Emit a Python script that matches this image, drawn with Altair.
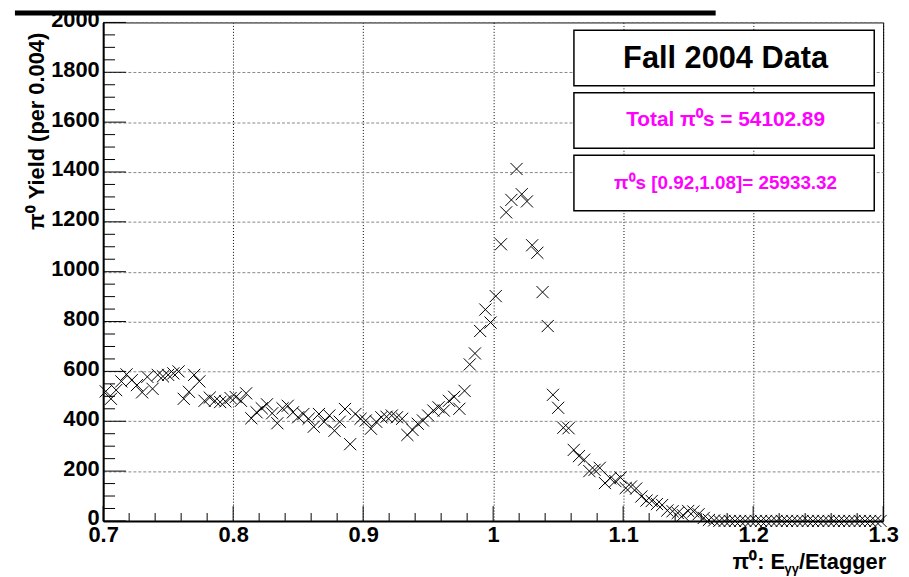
import altair as alt
import pandas as pd

FONT = "Liberation Sans"

# ---- data ----
bin_width = 0.004
x_start = 0.7
yields = [
    520, 490, 525, 560, 588, 565, 545, 516, 578, 530,
    586, 580, 586, 592, 600, 490, 518, 586, 560, 482,
    495, 482, 477, 480, 493, 497, 482, 512, 412, 436,
    452, 468, 432, 392, 452, 462, 436, 416, 429, 410,
    378, 429, 398, 423, 362, 398, 449, 308, 429, 410,
    403, 370, 398, 416, 418, 423, 416, 410, 345, 365,
    390, 403, 423, 443, 456, 443, 482, 498, 450, 522,
    628, 672, 762, 848, 796, 902, 1110, 1238, 1288, 1412,
    1311, 1282, 1106, 1076, 918, 782, 506, 454, 374, 372,
    285, 260, 246, 200, 205, 213, 152, 171, 160, 174,
    132, 138, 130, 98, 82, 80, 68, 64, 42, 39,
    32, 23, 40, 38, 27, 12, 4, 2, 0, 0,
    0, 0, 0, 0, 0, 0, 0, 0, 0, 0,
    0, 0, 0, 0, 0, 0, 0, 0, 0, 0,
    0, 0, 0, 0, 0, 0, 0, 0, 0, 0,
]
x_centers = [round(x_start + bin_width * (i + 0.5), 4) for i in range(len(yields))]

x_major = [0.7, 0.8, 0.9, 1.0, 1.1, 1.2, 1.3]
x_minor = [round(0.7 + 0.02 * k, 2) for k in range(31) if k % 5]
y_major = list(range(0, 2001, 200))
y_minor = [v for v in range(0, 2001, 50) if v % 200]

y_title = "π⁰ Yield (per 0.004)"
x_title_main = "π⁰: E"
x_title_sub = "γγ"
x_title_end = "/Etagger"
box_texts = ["Fall 2004 Data", "Total π⁰s = 54102.89", "π⁰s [0.92,1.08]= 25933.32"]

# ---- geometry ----
W, H = 787, 503
xscale = alt.Scale(domain=[0.7, 1.3], zero=False, nice=False)
yscale = alt.Scale(domain=[0, 2000], zero=False, nice=False)

df = pd.DataFrame({"x": x_centers, "y": yields})
dummy = pd.DataFrame({"a": [0]})

cross = "M-1,-1L1,1M-1,1L1,-1"

x_axis = alt.Axis(
    values=x_major, format="~g", grid=True, gridDash=[1, 2], gridColor="black",
    gridOpacity=1, ticks=False, tickSize=0, domain=True, domainColor="black",
    domainWidth=2, labelFlush=False, labelPadding=4, labelFont=FONT,
    labelFontWeight="bold", labelFontSize=22, labelColor="black", title=None)
y_axis = alt.Axis(
    values=y_major, format="d", grid=True, gridDash=[3, 2], gridColor="#888888",
    gridOpacity=1, ticks=False, tickSize=0, domain=True, domainColor="black",
    domainWidth=2, labelPadding=4, labelOffset=-3, labelFont=FONT,
    labelFontWeight="bold", labelFontSize=22, labelColor="black",
    title=y_title, titleFont=FONT,
    titleFontWeight="bold", titleFontSize=22, titleColor="black",
    titleX=-67, titleY=10, titleAlign="right", titleAngle=270,
    titleBaseline="middle")

points = alt.Chart(df).mark_point(
    shape=cross, size=150, filled=False, strokeWidth=1, color="black", opacity=1
).encode(
    x=alt.X("x:Q", scale=xscale, axis=x_axis),
    y=alt.Y("y:Q", scale=yscale, axis=y_axis),
)

xt_major = alt.Chart(pd.DataFrame({"x": x_major})).mark_rule(color="black", strokeWidth=1).encode(
    x=alt.X("x:Q", scale=xscale, axis=x_axis), y=alt.value(H), y2=alt.value(H - 15))
xt_minor = alt.Chart(pd.DataFrame({"x": x_minor})).mark_rule(color="black", strokeWidth=1).encode(
    x=alt.X("x:Q", scale=xscale, axis=x_axis), y=alt.value(H), y2=alt.value(H - 8))
yt_major = alt.Chart(pd.DataFrame({"y": y_major})).mark_rule(color="black", strokeWidth=1).encode(
    y=alt.Y("y:Q", scale=yscale, axis=y_axis), x=alt.value(0), x2=alt.value(23))
yt_minor = alt.Chart(pd.DataFrame({"y": y_minor})).mark_rule(color="black", strokeWidth=1).encode(
    y=alt.Y("y:Q", scale=yscale, axis=y_axis), x=alt.value(0), x2=alt.value(12))


def box(y0, y1):
    return alt.Chart(dummy).mark_rect(fill="white", stroke="black", strokeWidth=1.5).encode(
        x=alt.value(475), x2=alt.value(778), y=alt.value(y0), y2=alt.value(y1))


def label(txt, x, y, size, color, align="center", baseline="middle"):
    return alt.Chart(dummy).mark_text(
        font=FONT, fontWeight="bold", fontSize=size, color=color,
        align=align, baseline=baseline).encode(
        x=alt.value(x), y=alt.value(y), text=alt.value(txt))


boxes = [box(8, 64), box(71, 127), box(134, 190)]
texts = [
    label(box_texts[0], 628, 37, 31, "black"),
    label(box_texts[1], 628, 99, 21, "#ff00ff"),
    label(box_texts[2], 628, 162, 19, "#ff00ff"),
]

xtitle = [
    label(x_title_end, 790, 551, 22, "black", align="right", baseline="alphabetic"),
    label(x_title_sub, 702, 556, 13, "black", align="right", baseline="alphabetic"),
    label(x_title_main, 688, 551, 22, "black", align="right", baseline="alphabetic"),
]

topbar = alt.Chart(dummy).mark_rect(color="black").encode(
    x=alt.value(-89), x2=alt.value(618), y=alt.value(-12), y2=alt.value(-7))

chart = alt.layer(
    points, xt_major, xt_minor, yt_major, yt_minor, *boxes, *texts, *xtitle, topbar
).properties(
    width=W, height=H,
    autosize=alt.AutoSizeParams(type="none"),
    padding={"left": 96, "top": 12, "right": 18, "bottom": 55},
    background="white",
).configure_view(stroke="black", strokeWidth=1)

chart.save("out.html", embed_options={"renderer": "svg", "actions": False})
